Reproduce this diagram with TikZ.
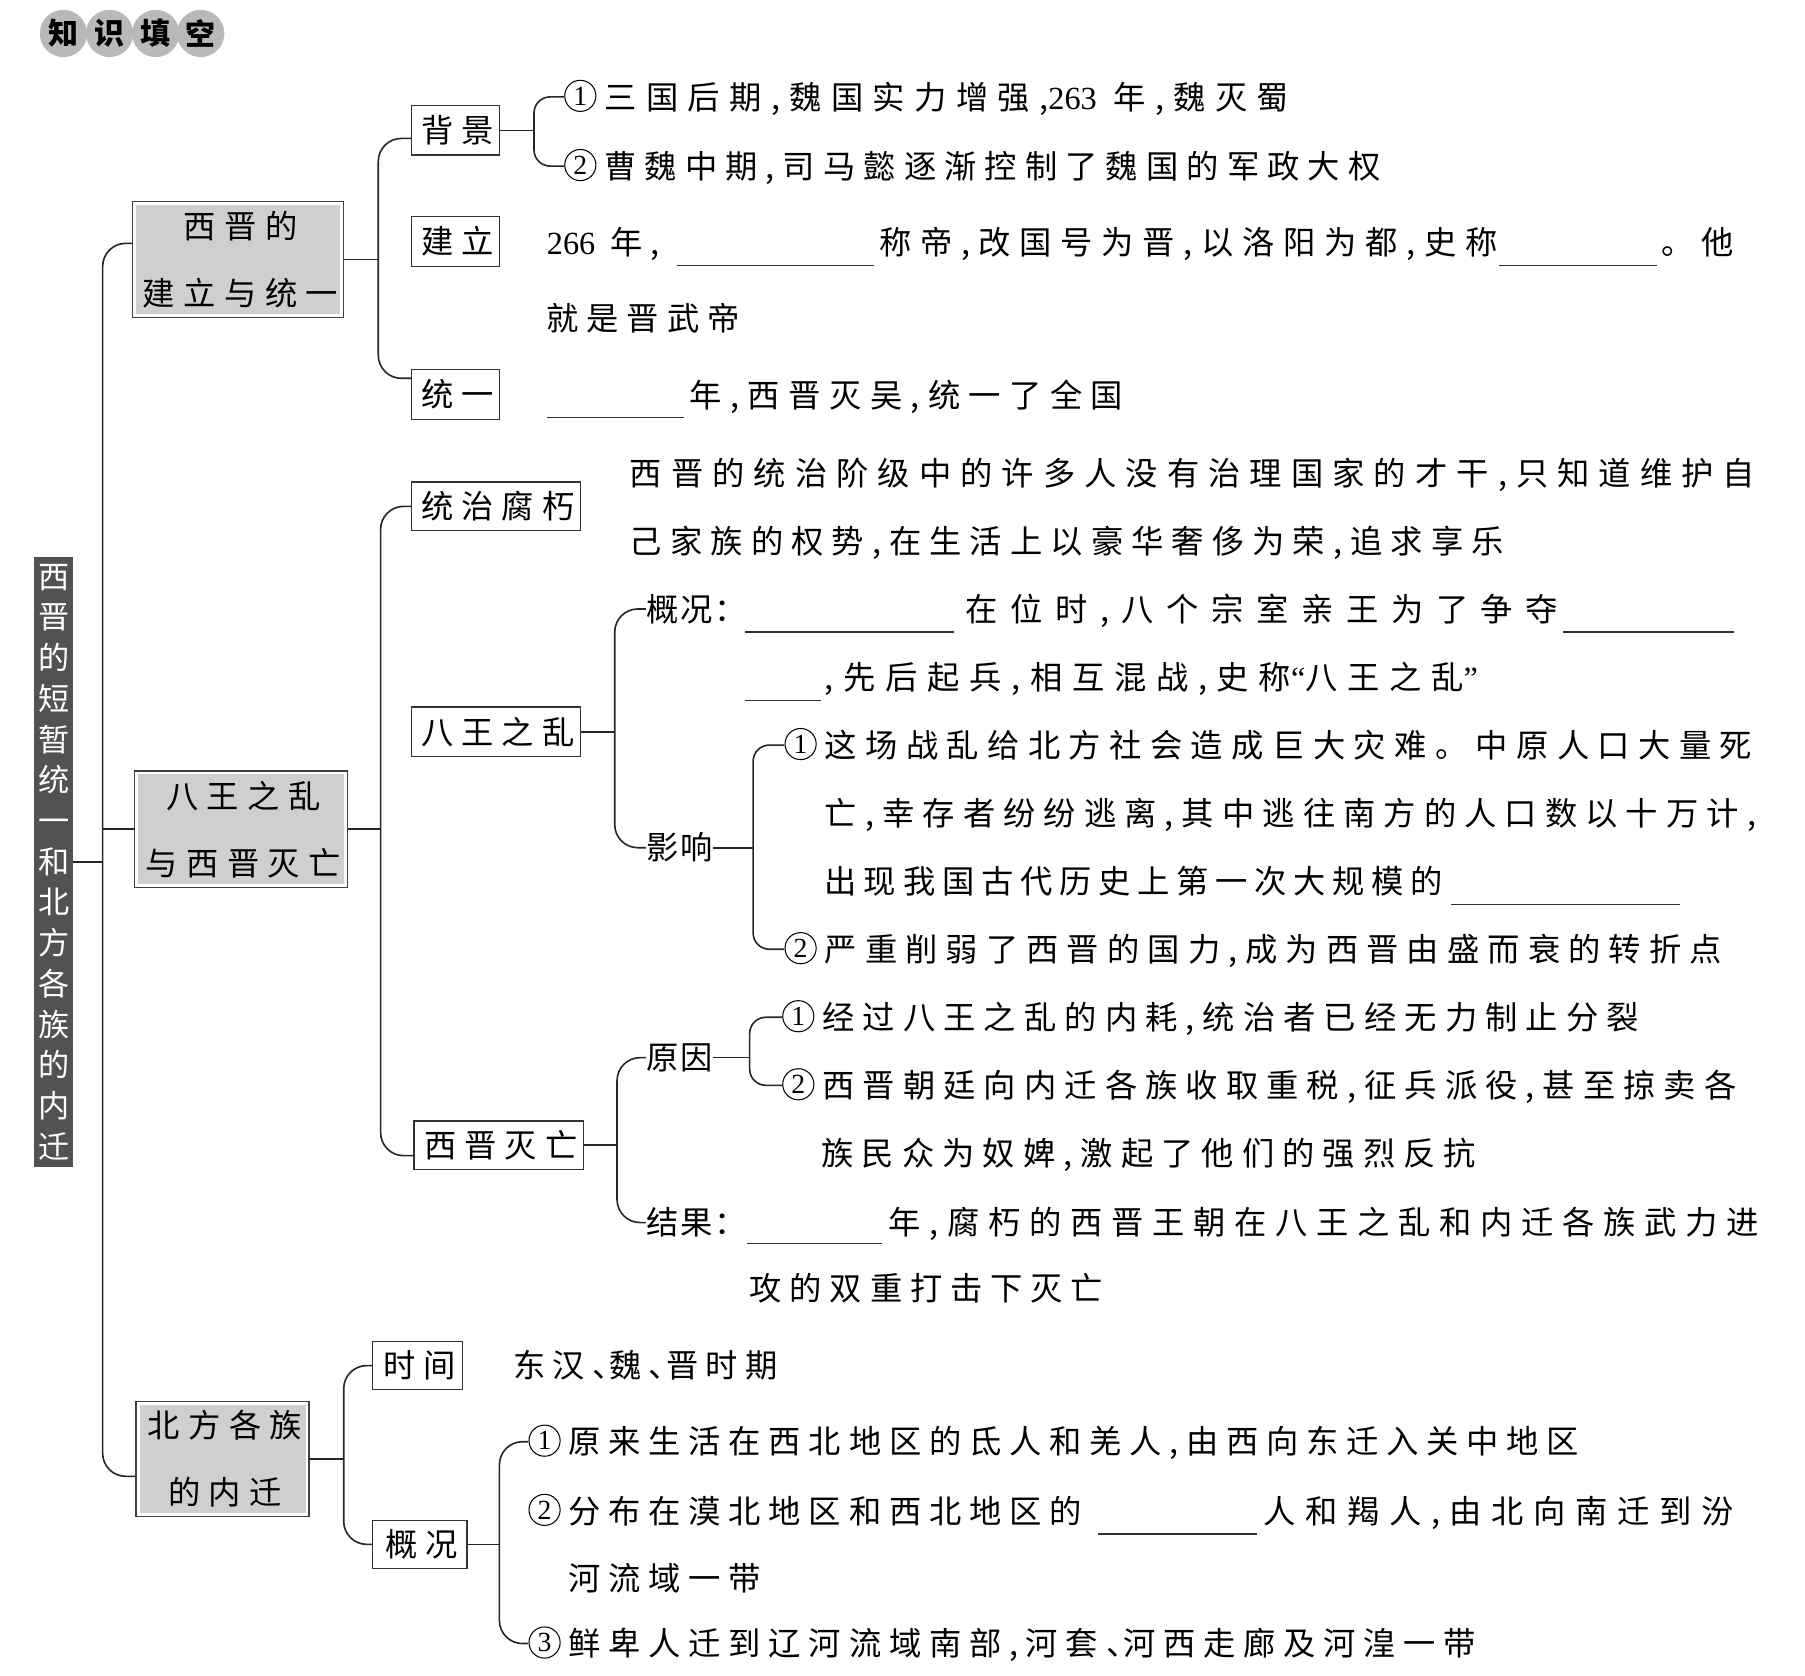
\documentclass[tikz,border=0pt]{standalone}
\usepackage{fontspec}
\newfontfamily\zhb{Noto Sans CJK SC}
\newfontfamily\numf{Liberation Serif}
\newcommand{\nm}[1]{{\numf #1}}
\newcommand{\myLQ}{{\numf “}}
\newcommand{\myRQ}{{\numf ”}}
\newcommand{\cn}[1]{\tikz[baseline={([yshift=-3.5pt]c.base)}]\node[circle,draw,line width=0.9pt,anchor=center,inner sep=0pt,minimum size=27pt,text height=16pt,text depth=0pt,font=\fontsize{24}{24}\selectfont\numf](c){#1};\kern7pt}
\begin{document}
\begin{tikzpicture}[x=1pt,y=-1pt,
  conn/.style={line width=1.4pt,black!85},
  rc/.style={conn,rounded corners=20pt},
  rcs/.style={conn,rounded corners=14pt},
  blank/.style={line width=1pt,black!80},
  txt/.style={anchor=west,inner sep=0pt,text height=24.6pt,text depth=3.4pt,font=\fontsize{28}{30}\selectfont\zhb\addfontfeature{LetterSpace=#1}},
  txt/.default=24,
  lab/.style={anchor=west,inner sep=0pt,text height=24.6pt,text depth=3.4pt,font=\fontsize{28}{30}\selectfont\zhb\addfontfeature{LetterSpace=6}},
  boxtwo/.style={draw=black!80,line width=1.1pt,fill=white,inner sep=0pt,minimum height=43pt,text height=24.6pt,text depth=3.4pt,font=\fontsize{28}{30}\selectfont\zhb\addfontfeature{LetterSpace=25}},
  lvone/.style={draw=black!75,line width=1.1pt,fill=white,inner sep=0pt,align=center,font=\fontsize{28}{58}\selectfont\zhb\addfontfeature{LetterSpace=26},
    path picture={\fill[gray!38] ([xshift=3pt,yshift=-3pt]path picture bounding box.north west) rectangle ([xshift=-3pt,yshift=3pt]path picture bounding box.south east);}},
  badge/.style={circle,fill=gray!55,minimum size=41pt,inner sep=0pt,font=\fontsize{26}{28}\selectfont\zhb\bfseries}
]
\useasboundingbox (0,0) rectangle (1565,1453);

% badge
\node[badge] (k1) at (55,29) {知};
\node[badge] (k2) at (95,29) {识};
\node[badge] (k3) at (135,29) {填};
\node[badge] (k4) at (174,29) {空};

% root
\node[fill=black!68,text=white,minimum width=34pt,minimum height=529pt,inner sep=0pt,align=center,
  font=\fontsize{27}{35.3}\selectfont\zhb] (root) at (46.5,747.5)
  {西\\晋\\的\\短\\暂\\统\\一\\和\\北\\方\\各\\族\\的\\内\\迁};

% level one
\node[lvone,minimum width=183pt,minimum height=100pt] (L1a) at (206.5,225) {\kern4pt西晋的\\\kern4pt建立与统一};
\node[lvone,minimum width=185pt,minimum height=101pt] (L1b) at (209,719) {\kern4pt八王之乱\\\kern4pt与西晋灭亡};
\node[lvone,minimum width=150pt,minimum height=100pt] (L1c) at (193,1265) {\kern4pt北方各族\\\kern4pt的内迁};

% level two boxes
\node[boxtwo,minimum width=76pt] (B1) at (395,113) {\kern3.5pt背景};
\node[boxtwo,minimum width=76pt] (B2) at (395,209.5) {\kern3.5pt建立};
\node[boxtwo,minimum width=76pt] (B3) at (395,342) {\kern3.5pt统一};
\node[boxtwo,minimum width=146pt,minimum height=42pt] (B4) at (430,439) {\kern3.5pt统治腐朽};
\node[boxtwo,minimum width=146pt] (B5) at (430,634.5) {\kern3.5pt八王之乱};
\node[boxtwo,minimum width=147pt,minimum height=42pt] (B6) at (432.5,993) {\kern3.5pt西晋灭亡};
\node[boxtwo,minimum width=78pt,minimum height=42pt] (B7) at (362,1184) {\kern3.5pt时间};
\node[boxtwo,minimum width=82pt,minimum height=42pt] (B8) at (364,1339) {\kern3.5pt概况};

% section 1 texts
\node[txt=29] (t11) at (489,84) {\cn{1}三国后期,魏国实力增强,\nm{263} 年,魏灭蜀};
\node[txt=25] (t12) at (489,144) {\cn{2}曹魏中期,司马懿逐渐控制了魏国的军政大权};
\node[txt] (t21a) at (474,210) {\nm{266} 年,};
\draw[blank] (587,230) -- (758,230);
\node[txt=27] (t21b) at (762,210) {称帝,改国号为晋,以洛阳为都,史称};
\draw[blank] (1300,230) -- (1437,230);
\node[txt] (t21c) at (1440,210) {。他};
\node[txt] (t22) at (474,276) {就是晋武帝};
\draw[blank] (474,362) -- (593,362);
\node[txt=26] (t31) at (598,343) {年,西晋灭吴,统一了全国};

% section 2 texts
\node[txt=28] (t41) at (546,410) {西晋的统治阶级中的许多人没有治理国家的才干,只知道维护自};
\node[txt=25] (t42) at (546,469) {己家族的权势,在生活上以豪华奢侈为荣,追求享乐};
\node[lab] (g1) at (560,528) {概况：};
\draw[blank] (646,548) -- (827,548);
\node[txt=39] (t51) at (837,528) {在位时,八个宗室亲王为了争夺};
\draw[blank] (1355,548) -- (1503,548);
\draw[blank] (646,607) -- (712,607);
\node[txt=30] (t52) at (715,587) {,先后起兵,相互混战,史称\myLQ 八王之乱\myRQ};
\node[lab] (y1) at (560,735) {影响};
\node[txt=26] (t53) at (680,646) {\cn{1}这场战乱给北方社会造成巨大灾难。中原人口大量死};
\node[txt=25] (t54) at (715,705) {亡,幸存者纷纷逃离,其中逃往南方的人口数以十万计,};
\node[txt=21] (t55) at (715,764) {出现我国古代历史上第一次大规模的};
\draw[blank] (1258,784) -- (1457,784);
\node[txt=25] (t56) at (680,823) {\cn{2}严重削弱了西晋的国力,成为西晋由盛而衰的转折点};
\node[lab] (r1) at (560,917) {原因};
\node[txt=25] (t61) at (678,882) {\cn{1}经过八王之乱的内耗,统治者已经无力制止分裂};
\node[txt=25] (t62) at (678,941) {\cn{2}西晋朝廷向内迁各族收取重税,征兵派役,甚至掠卖各};
\node[txt=25] (t63) at (712,1000) {族民众为奴婢,激起了他们的强烈反抗};
\node[lab] (j1) at (560,1060) {结果：};
\draw[blank] (648,1078) -- (765,1078);
\node[txt=27] (t64) at (770,1060) {年,腐朽的西晋王朝在八王之乱和内迁各族武力进};
\node[txt] (t65) at (650,1117) {攻的双重打击下灭亡};

% section 3 texts
\node[txt=22] (t71) at (445,1184) {东汉、\kern-13pt魏、\kern-13pt晋时期};
\node[txt] (t81) at (458,1250) {\cn{1}原来生活在西北地区的氐人和羌人,由西向东迁入关中地区};
\node[txt] (t82a) at (458,1310) {\cn{2}分布在漠北地区和西北地区的};
\draw[blank] (952,1330) -- (1090,1330);
\node[txt=30] (t82b) at (1095,1310) {人和羯人,由北向南迁到汾};
\node[txt] (t83) at (493,1368) {河流域一带};
\node[txt] (t84) at (458,1425) {\cn{3}鲜卑人迁到辽河流域南部,河套、\kern-13pt河西走廊及河湟一带};

% spine coordinates
\coordinate (sp0) at (89,0);
\coordinate (sp1) at (328,0);
\coordinate (sp2) at (463,0);
\coordinate (sp3) at (330,0);
\coordinate (sp4) at (533,0);
\coordinate (sp5) at (653,0);
\coordinate (sp6) at (535,0);
\coordinate (sp7) at (650,0);
\coordinate (sp8) at (298,0);
\coordinate (sp9) at (433,0);
\coordinate (a1in) at ([yshift=14pt]L1a.west);
\coordinate (c1in) at ([yshift=-15pt]L1c.west);
\coordinate (b1in) at ([yshift=-7pt]B1.west);
\coordinate (b3in) at ([yshift=14pt]B3.west);
\coordinate (b6in) at ([yshift=-9pt]B6.west);

% main
\draw[conn] (root.east) -- (root.east -| sp0);
\draw[rc] (a1in) -| (sp0 |- c1in) -- (c1in);
\draw[conn] (L1b.west) -- (L1b.west -| sp0);

% section 1
\draw[conn] (L1a.east) -- (L1a.east -| sp1);
\draw[rc] (b1in) -| (sp1 |- b3in) -- (b3in);
\draw[conn] (B1.east) -- (B1.east -| sp2);
\draw[rcs] (t11.west) -| (sp2 |- t12.west) -- (t12.west);

% section 2
\draw[conn] (L1b.east) -- (L1b.east -| sp3);
\draw[rc] (B4.west) -| (sp3 |- b6in) -- (b6in);
\draw[conn] (B5.east) -- (B5.east -| sp4);
\draw[rc] (g1.west) -| (sp4 |- y1.west) -- (y1.west);
\draw[conn] (y1.east) -- (y1.east -| sp5);
\draw[rcs] (t53.west) -| (sp5 |- t56.west) -- (t56.west);
\draw[conn] (B6.east) -- (B6.east -| sp6);
\draw[rc] (r1.west) -| (sp6 |- j1.west) -- (j1.west);
\draw[conn] (r1.east) -- (r1.east -| sp7);
\draw[rcs] (t61.west) -| (sp7 |- t62.west) -- (t62.west);

% section 3
\draw[conn] (L1c.east) -- (L1c.east -| sp8);
\draw[rc] (B7.west) -| (sp8 |- B8.west) -- (B8.west);
\draw[conn] (B8.east) -- (B8.east -| sp9);
\draw[rc] (t81.west) -| (sp9 |- t84.west) -- (t84.west);
\end{tikzpicture}
\end{document}
